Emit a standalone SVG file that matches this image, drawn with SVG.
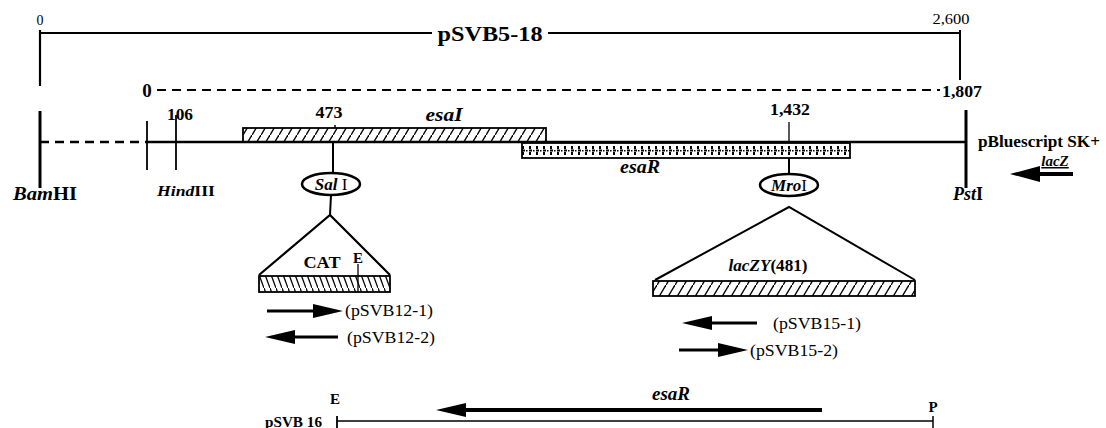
<svg xmlns="http://www.w3.org/2000/svg" width="1106" height="428" viewBox="0 0 1106 428" font-family="'Liberation Serif','Times New Roman',serif">
<style>
text{font-family:"Liberation Serif","Times New Roman",serif;fill:#000}
.b{font-weight:bold}
.i{font-style:italic}
.ln{stroke:#000;fill:none}
</style>
<defs>
<pattern id="hatchF" width="9" height="15" patternUnits="userSpaceOnUse">
<line x1="0" y1="15" x2="9" y2="0" stroke="#000" stroke-width="1.4"/>
</pattern>
<pattern id="hatchB" width="6" height="16" patternUnits="userSpaceOnUse">
<line x1="0" y1="0" x2="6" y2="16" stroke="#000" stroke-width="1.3"/>
</pattern>
<pattern id="dots" x="522" y="143" width="7" height="15" patternUnits="userSpaceOnUse">
<rect width="7" height="15" fill="#fff"/>
<rect x="0" y="3" width="2" height="3" fill="#000"/>
<rect x="0" y="9" width="2" height="3" fill="#000"/>
<rect x="-1" y="6.5" width="4" height="2" fill="#000"/>
<rect x="4" y="7" width="1.5" height="1.5" fill="#000"/>
</pattern>
</defs>
<g id="connectors">
<line class="ln" x1="40" y1="33" x2="432" y2="33" stroke-width="2.2"/>
<line class="ln" x1="548" y1="33" x2="960" y2="33" stroke-width="2.2"/>
<line class="ln" x1="40" y1="30" x2="40" y2="86" stroke-width="2.2"/>
<line class="ln" x1="960" y1="30" x2="960" y2="80" stroke-width="2"/>
<line class="ln" x1="157" y1="90" x2="940" y2="90" stroke-width="2" stroke-dasharray="9,6"/>
<line class="ln" x1="40" y1="142" x2="147" y2="142" stroke-width="2.5" stroke-dasharray="9,6"/>
<line class="ln" x1="147" y1="142" x2="966" y2="142" stroke-width="2.5"/>
<line class="ln" x1="40" y1="111" x2="40" y2="188" stroke-width="3"/>
<line class="ln" x1="966" y1="110" x2="966" y2="188" stroke-width="3"/>
<line class="ln" x1="147" y1="121" x2="147" y2="170" stroke-width="1.8"/>
<line class="ln" x1="176" y1="115" x2="176" y2="170" stroke-width="1.8"/>
<line class="ln" x1="333" y1="142" x2="333" y2="173" stroke-width="2"/>
<line class="ln" x1="331" y1="195" x2="330" y2="215" stroke-width="2"/>
<line class="ln" x1="789" y1="122" x2="789" y2="143" stroke-width="1.3"/>
<line class="ln" x1="789" y1="158" x2="789" y2="174" stroke-width="2"/>
<line class="ln" x1="337" y1="421" x2="933" y2="421" stroke-width="1.5"/>
<line class="ln" x1="337" y1="416" x2="337" y2="428" stroke-width="1.8"/>
<line class="ln" x1="933" y1="416" x2="933" y2="428" stroke-width="1.5"/>
</g>
<g id="esaI">
<rect x="243" y="128" width="303" height="14" fill="url(#hatchF)" stroke="#000" stroke-width="1.8"/>
<line class="ln" x1="335" y1="125" x2="335" y2="128" stroke-width="1.5"/>
</g>
<g id="esaR">
<rect x="522" y="143" width="328" height="15" fill="url(#dots)" stroke="#000" stroke-width="1.8"/>
</g>
<g id="SalI">
<ellipse cx="331" cy="184" rx="29" ry="11" fill="#fff" stroke="#000" stroke-width="2.5"/>
<text x="331" y="190" font-size="17" text-anchor="middle"><tspan class="i b">Sal</tspan> I</text>
</g>
<g id="CAT">
<polyline class="ln" points="259,275 330,215 390,275" stroke-width="2.2"/>
<rect x="259" y="276" width="131" height="16" fill="url(#hatchB)" stroke="#000" stroke-width="1.8"/>
<line class="ln" x1="358" y1="264" x2="358" y2="292" stroke-width="1.3"/>
<text x="322" y="268" font-size="17" class="b" text-anchor="middle" textLength="37" lengthAdjust="spacingAndGlyphs">CAT</text>
<text x="358" y="263" font-size="15" class="b" text-anchor="middle">E</text>
</g>
<g id="MroI">
<ellipse cx="789" cy="185" rx="29" ry="11" fill="#fff" stroke="#000" stroke-width="2.5"/>
<text x="789" y="191" font-size="17" text-anchor="middle"><tspan class="i b">Mro</tspan>I</text>
</g>
<g id="lacZY">
<polyline class="ln" points="655,280 789,207 915,280" stroke-width="2"/>
<rect x="653" y="281" width="262" height="15" fill="url(#hatchF)" stroke="#000" stroke-width="1.8"/>
<text x="768" y="271" font-size="17" class="b" text-anchor="middle" textLength="79" lengthAdjust="spacingAndGlyphs"><tspan class="i">lacZY</tspan>(481)</text>
</g>
<g id="arrows">
<line class="ln" x1="267" y1="311" x2="316" y2="311" stroke-width="3"/>
<polygon points="343,311 313,304 313,318" fill="#000"/>
<line class="ln" x1="290" y1="337" x2="338" y2="337" stroke-width="3"/>
<polygon points="265,337 295,330 295,344" fill="#000"/>
<line class="ln" x1="707" y1="323" x2="757" y2="323" stroke-width="3"/>
<polygon points="682,323 712,316 712,330" fill="#000"/>
<line class="ln" x1="679" y1="350" x2="722" y2="350" stroke-width="3"/>
<polygon points="748,350 718,343 718,357" fill="#000"/>
<line class="ln" x1="1035" y1="174" x2="1073" y2="174" stroke-width="4"/>
<polygon points="1010,174 1040,166 1040,182" fill="#000"/>
<line class="ln" x1="460" y1="410" x2="822" y2="410" stroke-width="4"/>
<polygon points="436,410 466,403 466,417" fill="#000"/>
</g>
<g id="labels">
<text x="40" y="25" font-size="14" text-anchor="middle">0</text>
<text x="951" y="24" font-size="14" text-anchor="middle" textLength="37" lengthAdjust="spacingAndGlyphs">2,600</text>
<text x="490" y="41" font-size="22" class="b" text-anchor="middle" textLength="105" lengthAdjust="spacingAndGlyphs">pSVB5-18</text>
<text x="147" y="97" font-size="19" class="b" text-anchor="middle">0</text>
<text x="942" y="97" font-size="17" class="b" textLength="40" lengthAdjust="spacingAndGlyphs">1,807</text>
<text x="180" y="120" font-size="16" class="b" text-anchor="middle" textLength="26" lengthAdjust="spacingAndGlyphs">106</text>
<text x="329" y="118" font-size="16" class="b" text-anchor="middle" textLength="27" lengthAdjust="spacingAndGlyphs">473</text>
<text x="444" y="121" font-size="18" class="b i" text-anchor="middle" textLength="37" lengthAdjust="spacingAndGlyphs">esaI</text>
<text x="790" y="115" font-size="17" class="b" text-anchor="middle" textLength="40" lengthAdjust="spacingAndGlyphs">1,432</text>
<text x="640" y="173" font-size="18" class="b i" text-anchor="middle" textLength="40" lengthAdjust="spacingAndGlyphs">esaR</text>
<text x="45" y="200" font-size="19" class="b" text-anchor="middle" textLength="64" lengthAdjust="spacingAndGlyphs"><tspan class="i">Bam</tspan>HI</text>
<text x="186" y="196" font-size="15" class="b" text-anchor="middle" textLength="58" lengthAdjust="spacingAndGlyphs"><tspan class="i">Hind</tspan>III</text>
<text x="968" y="200" font-size="19" class="b" text-anchor="middle" textLength="30" lengthAdjust="spacingAndGlyphs"><tspan class="i">Pst</tspan>I</text>
<text x="978" y="147" font-size="16" class="b" textLength="122" lengthAdjust="spacingAndGlyphs">pBluescript SK+</text>
<text x="1055" y="166" font-size="15" class="b i" text-anchor="middle" text-decoration="underline">lacZ</text>
<text x="345" y="316" font-size="16" textLength="88" lengthAdjust="spacingAndGlyphs">(pSVB12-1)</text>
<text x="347" y="343" font-size="16" textLength="88" lengthAdjust="spacingAndGlyphs">(pSVB12-2)</text>
<text x="773" y="329" font-size="16" textLength="88" lengthAdjust="spacingAndGlyphs">(pSVB15-1)</text>
<text x="750" y="356" font-size="16" textLength="88" lengthAdjust="spacingAndGlyphs">(pSVB15-2)</text>
<text x="671" y="400" font-size="18" class="b i" text-anchor="middle" textLength="38" lengthAdjust="spacingAndGlyphs">esaR</text>
<text x="335" y="404" font-size="15" class="b" text-anchor="middle">E</text>
<text x="933" y="412" font-size="15" class="b" text-anchor="middle">P</text>
<text x="322" y="427" font-size="14" class="b" text-anchor="end" textLength="57" lengthAdjust="spacingAndGlyphs">pSVB 16</text>
</g>
</svg>
